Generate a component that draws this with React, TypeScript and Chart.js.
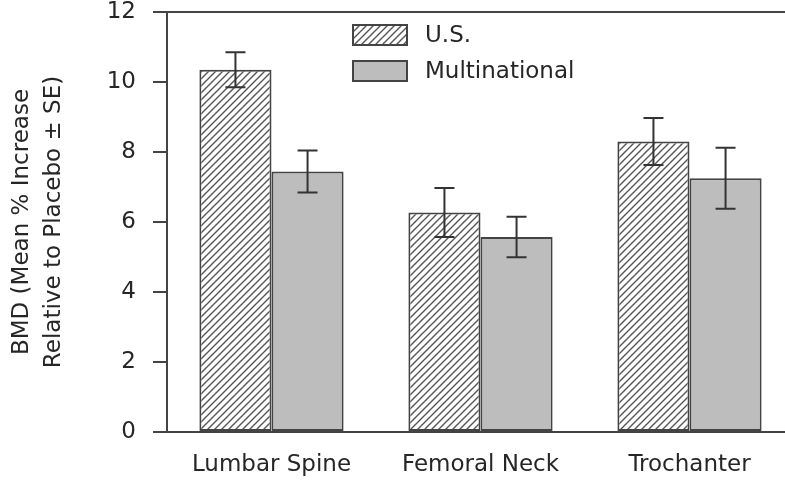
import { useEffect, useRef } from 'react';
import { Chart, registerables } from 'chart.js';

Chart.register(...registerables);

const categories = ['Lumbar Spine', 'Femoral Neck', 'Trochanter'];
const seriesNames = ['U.S.', 'Multinational'];
const usValues = [10.35, 6.27, 8.3];
const usErrors = [0.5, 0.7, 0.67];
const multiValues = [7.44, 5.57, 7.25];
const multiErrors = [0.6, 0.58, 0.87];
const yTicks = [0, 2, 4, 6, 8, 10, 12];
const yTitle = ['BMD (Mean % Increase', 'Relative to Placebo \u00b1 SE)'];

const FONT = "'DejaVu Sans', 'Liberation Sans', sans-serif";
const INK = '#444';
const TEXT = '#262626';

function makeHatch(): CanvasPattern | string {
  const n = 7;
  const c = document.createElement('canvas');
  c.width = n;
  c.height = n;
  const g = c.getContext('2d');
  if (!g) return '#fff';
  g.fillStyle = '#ffffff';
  g.fillRect(0, 0, n, n);
  g.strokeStyle = '#555';
  g.lineWidth = 1.4;
  g.beginPath();
  g.moveTo(-1, n + 1);
  g.lineTo(n + 1, -1);
  g.moveTo(-1, 1);
  g.lineTo(1, -1);
  g.moveTo(n - 1, n + 1);
  g.lineTo(n + 1, n - 1);
  g.stroke();
  const p = g.createPattern(c, 'repeat');
  return p || '#fff';
}

const errorBarPlugin = {
  id: 'errorBars',
  afterDatasetsDraw(chart: any) {
    const ctx = chart.ctx;
    const yScale = chart.scales.y;
    chart.data.datasets.forEach((ds: any, i: number) => {
      const meta = chart.getDatasetMeta(i);
      const errs: number[] = ds.errors || [];
      meta.data.forEach((bar: any, j: number) => {
        const v = ds.data[j];
        const e = errs[j];
        const x = bar.x;
        const yT = yScale.getPixelForValue(v + e);
        const yB = yScale.getPixelForValue(v - e);
        ctx.save();
        ctx.strokeStyle = '#333';
        ctx.lineWidth = 2;
        ctx.beginPath();
        ctx.moveTo(x, yT);
        ctx.lineTo(x, yB);
        ctx.moveTo(x - 10, yT);
        ctx.lineTo(x + 10, yT);
        ctx.moveTo(x - 10, yB);
        ctx.lineTo(x + 10, yB);
        ctx.stroke();
        ctx.restore();
      });
    });
  },
};

const legendPlugin = {
  id: 'insideLegend',
  afterDraw(chart: any) {
    const ctx = chart.ctx;
    const bx = 353;
    const by = 25;
    const bw = 54;
    const bh = 20;
    const gap = 36;
    chart.data.datasets.forEach((ds: any, i: number) => {
      const y = by + i * gap;
      ctx.save();
      ctx.fillStyle = ds.backgroundColor;
      ctx.fillRect(bx, y, bw, bh);
      ctx.strokeStyle = INK;
      ctx.lineWidth = 2;
      ctx.strokeRect(bx, y, bw, bh);
      ctx.fillStyle = TEXT;
      ctx.font = `23px ${FONT}`;
      ctx.textBaseline = 'middle';
      ctx.textAlign = 'left';
      ctx.fillText(ds.label, 425, y + bh / 2 + 1);
      ctx.restore();
    });
  },
};

export default function App() {
  const ref = useRef<HTMLCanvasElement | null>(null);

  useEffect(() => {
    if (!ref.current) return;
    const hatch = makeHatch();
    const chart = new Chart(ref.current, {
      type: 'bar',
      data: {
        labels: categories,
        datasets: [
          {
            label: seriesNames[0],
            data: usValues,
            errors: usErrors,
            backgroundColor: hatch,
            borderColor: INK,
            borderWidth: 2,
            borderSkipped: false,
            barPercentage: 1.0,
            categoryPercentage: 0.69,
          } as any,
          {
            label: seriesNames[1],
            data: multiValues,
            errors: multiErrors,
            backgroundColor: '#bdbdbd',
            borderColor: INK,
            borderWidth: 2,
            borderSkipped: false,
            barPercentage: 1.0,
            categoryPercentage: 0.69,
          } as any,
        ],
      },
      options: {
        responsive: false,
        animation: false,
        layout: { padding: { left: 0, right: 6, top: 12, bottom: 0 } },
        plugins: {
          legend: { display: false },
          tooltip: { enabled: false },
        },
        scales: {
          x: {
            type: 'category',
            grid: { display: false, drawTicks: false },
            border: { display: false },
            ticks: {
              font: { family: FONT, size: 23 },
              color: TEXT,
              padding: 19,
              maxRotation: 0,
            },
            afterFit: (s: any) => {
              s.height = 48;
            },
          },
          y: {
            min: 0,
            max: 12,
            afterBuildTicks: (s: any) => {
              s.ticks = yTicks.map((v) => ({ value: v }));
            },
            ticks: {
              font: { family: FONT, size: 23, lineHeight: 1 },
              color: TEXT,
              padding: 17,
            },
            grid: {
              color: (c: any) =>
                c.tick && (c.tick.value === 0 || c.tick.value === 12) ? INK : 'rgba(0,0,0,0)',
              tickColor: INK,
              lineWidth: 2,
              tickLength: 14,
              drawTicks: true,
            },
            border: { display: true, color: INK, width: 2 },
            title: {
              display: true,
              text: yTitle,
              font: { family: FONT, size: 23, lineHeight: 1.35 },
              color: TEXT,
              padding: { top: 7, bottom: 0 },
            },
            afterFit: (s: any) => {
              s.width = 167;
              s.paddingTop = 0;
              s.paddingBottom = 0;
            },
          },
        },
      } as any,
      plugins: [errorBarPlugin, legendPlugin],
    });
    return () => chart.destroy();
  }, []);

  return (
    <div
      style={{
        position: 'fixed',
        left: 0,
        top: 0,
        width: 785,
        height: 480,
        overflow: 'hidden',
        background: '#fff',
      }}
    >
      <canvas ref={ref} width={800} height={480} style={{ display: 'block' }} />
    </div>
  );
}
